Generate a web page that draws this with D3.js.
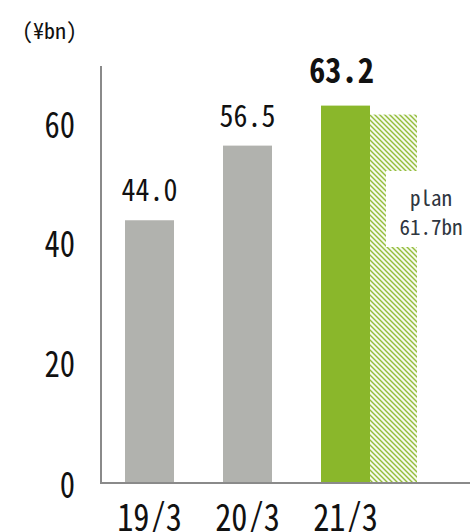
<!DOCTYPE html>
<html>
<head>
<meta charset="utf-8">
<script src="https://cdn.jsdelivr.net/npm/d3@7"></script>
<style>
  html, body { margin: 0; padding: 0; background: #fff; }
  svg { display: block; }
  .mono { font-family: "Noto Sans Mono CJK JP", "Noto Sans CJK JP", "DejaVu Sans Mono", monospace; }
</style>
</head>
<body>
<svg id="chart" width="470" height="532"></svg>
<script>
// Fiscal year-end categories and results (¥bn)
const categories = ["19/3", "20/3", "21/3"];
const actualValues = [44.0, 56.5, 63.2];
const valueLabels = ["44.0", "56.5", "63.2"];
const planValue = 61.7;
const planLabel = ["plan", "61.7bn"];
const yTicks = [0, 20, 40, 60];
const unitLabel = "(¥bn)";

const svg = d3.select("#chart");
const W = 470, H = 532;

const y = d3.scaleLinear().domain([0, 70]).range([483, 65]);
const x = d3.scaleBand().domain(categories).range([100.5, 394.5])
  .paddingInner(0.5).paddingOuter(0.25);
const bw = x.bandwidth();

const grey = "#b1b2ae", green = "#8ab72b";

// condensed text helper: draws text at (tx, ty) squeezed horizontally
function squeezed(sel, tx, ty, sx) {
  return sel.append("g")
    .attr("transform", `translate(${tx},${ty}) scale(${sx},1)`)
    .append("text").attr("class", "mono");
}

// diagonal hatch for the plan bar
const defs = svg.append("defs");
const pat = defs.append("pattern")
  .attr("id", "hatch").attr("patternUnits", "userSpaceOnUse")
  .attr("width", 5).attr("height", 5);
pat.append("rect").attr("width", 5).attr("height", 5).attr("fill", "#f6faee");
pat.append("path").attr("d", "M-1,-1 L6,6 M-1,4 L1,6 M4,-1 L6,1")
  .attr("stroke", "#93bd3a").attr("stroke-width", 1.4);

// plan bar (behind label box)
const last = categories[categories.length - 1];
svg.append("rect")
  .attr("x", x(last) + bw).attr("y", y(planValue))
  .attr("width", bw - 2).attr("height", y(0) - y(planValue))
  .attr("fill", "url(#hatch)");

// actual bars
svg.selectAll("rect.bar").data(categories).join("rect")
  .attr("class", "bar")
  .attr("x", d => x(d)).attr("width", bw)
  .attr("y", (d, i) => y(actualValues[i]))
  .attr("height", (d, i) => y(0) - y(actualValues[i]))
  .attr("fill", (d, i) => i === categories.length - 1 ? green : grey);

// plan note box
svg.append("rect").attr("x", 386).attr("y", 171).attr("width", 90).attr("height", 76).attr("fill", "#fff");
planLabel.forEach((t, i) => {
  svg.append("text").attr("class", "mono")
    .attr("x", 431).attr("y", 206 + i * 29)
    .attr("text-anchor", "middle")
    .attr("font-size", 21).attr("fill", "#2f3640")
    .text(t);
});

// axes
svg.append("line").attr("x1", 101).attr("x2", 101).attr("y1", 66).attr("y2", 483)
  .attr("stroke", "#8a8a8a").attr("stroke-width", 2);
svg.append("line").attr("x1", 100).attr("x2", W).attr("y1", 483).attr("y2", 483)
  .attr("stroke", "#8a8a8a").attr("stroke-width", 2);

// y tick labels
yTicks.forEach(d => {
  squeezed(svg, 75, y(d) + 13 + (d === 0 ? 2 : 0), 0.85)
    .attr("text-anchor", "end")
    .attr("font-size", 36).attr("fill", "#111")
    .text(d);
});

// category labels
categories.forEach(d => {
  squeezed(svg, x(d) + bw / 2, 531, 0.85)
    .attr("text-anchor", "middle")
    .attr("font-size", 38).attr("fill", "#111")
    .text(d);
});

// value labels
categories.forEach((d, i) => {
  const bold = i === categories.length - 1;
  squeezed(svg, x(d) + bw / 2 - (bold ? 4 : 0), y(actualValues[i]) - (bold ? 23 : 19), bold ? 0.95 : 0.9)
    .attr("text-anchor", "middle")
    .attr("font-size", bold ? 34 : 31)
    .attr("font-weight", bold ? "bold" : "normal")
    .attr("fill", "#111")
    .text(valueLabels[i]);
});

// unit label
svg.append("text").attr("class", "mono")
  .attr("x", 22).attr("y", 39)
  .attr("font-size", 22).attr("fill", "#111")
  .text(unitLabel);
</script>
</body>
</html>
